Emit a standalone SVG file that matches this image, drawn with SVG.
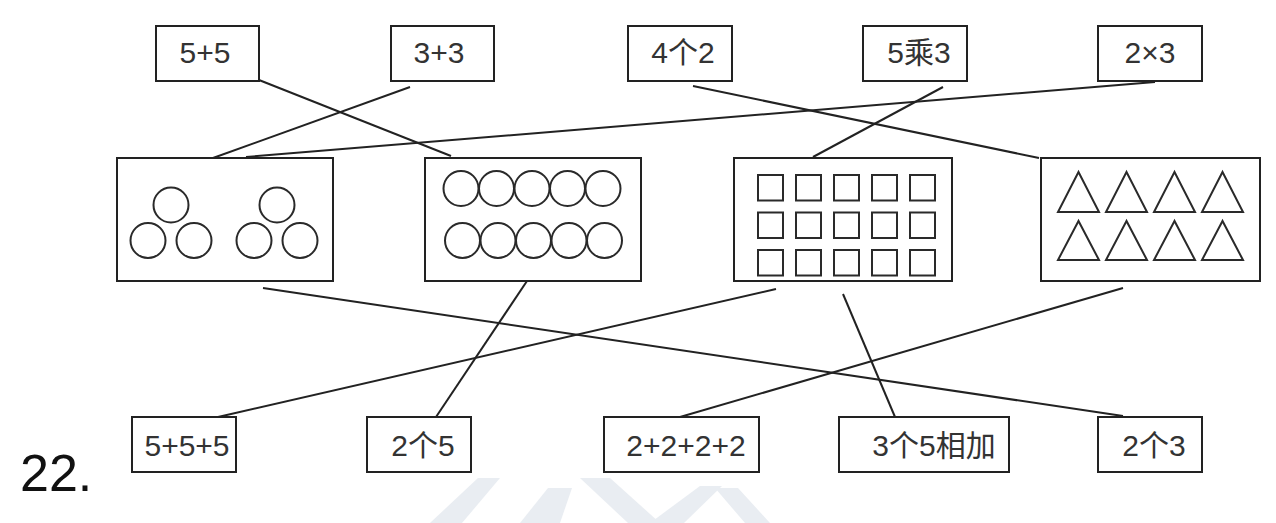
<svg xmlns="http://www.w3.org/2000/svg" width="1276" height="523" viewBox="0 0 1276 523">
<style>
.box{fill:#fff;stroke:#222;stroke-width:2}
.sh{fill:none;stroke:#2a2a2a;stroke-width:2}
.lbl{font-family:"Liberation Sans","Noto Sans CJK SC",sans-serif;font-size:30px;fill:#333;text-anchor:middle}
.num{font-family:"Liberation Sans",sans-serif;font-size:52px;fill:#111}
.wm{fill:#e9edf2}
#connectors line{stroke:#222;stroke-width:2}
</style>
<rect width="1276" height="523" fill="#fff"/>
<g id="watermark">
<polygon class="wm" points="430,523 478,478 500,478 462,523"/>
<polygon class="wm" points="520,523 548,488 572,488 560,523"/>
<polygon class="wm" points="580,478 610,478 660,523 628,523"/>
<polygon class="wm" points="650,523 700,486 722,486 684,523"/>
<polygon class="wm" points="715,488 738,488 770,523 745,523"/>
</g>
<g id="connectors">
<line x1="259" y1="80" x2="451" y2="156"/>
<line x1="410" y1="87" x2="213" y2="158"/>
<line x1="693" y1="86" x2="1039" y2="158"/>
<line x1="943" y1="87" x2="813" y2="157"/>
<line x1="1155" y1="82" x2="246" y2="157"/>
<line x1="263" y1="288" x2="1123" y2="416"/>
<line x1="527" y1="281" x2="436" y2="417"/>
<line x1="776" y1="289" x2="218" y2="417"/>
<line x1="843" y1="294" x2="895" y2="417"/>
<line x1="1123" y1="288" x2="680" y2="417"/>
</g>
<g id="t1"><rect class="box" x="156" y="26" width="103" height="55"/><text class="lbl" x="205" y="63">5+5</text></g>
<g id="t2"><rect class="box" x="391" y="26" width="103" height="55"/><text class="lbl" x="439" y="63">3+3</text></g>
<g id="t3"><rect class="box" x="628" y="26" width="104" height="55"/><text class="lbl" x="683" y="63">4个2</text></g>
<g id="t4"><rect class="box" x="863" y="26" width="104" height="55"/><text class="lbl" x="919" y="63">5乘3</text></g>
<g id="t5"><rect class="box" x="1098" y="26" width="104" height="55"/><text class="lbl" x="1150" y="63">2×3</text></g>
<g id="m1">
<rect class="box" x="117" y="158" width="216" height="123"/>
<circle class="sh" cx="171" cy="205" r="17.5"/><circle class="sh" cx="148" cy="240.5" r="17.5"/><circle class="sh" cx="194" cy="240.5" r="17.5"/>
<circle class="sh" cx="277" cy="205" r="17.5"/><circle class="sh" cx="254" cy="240.5" r="17.5"/><circle class="sh" cx="300" cy="240.5" r="17.5"/>
</g>
<g id="m2">
<rect class="box" x="425" y="158" width="216" height="123"/>
<circle class="sh" cx="461" cy="188.5" r="17.5"/><circle class="sh" cx="496.5" cy="188.5" r="17.5"/><circle class="sh" cx="532" cy="188.5" r="17.5"/><circle class="sh" cx="567.5" cy="188.5" r="17.5"/><circle class="sh" cx="603" cy="188.5" r="17.5"/>
<circle class="sh" cx="462.5" cy="240.5" r="17.5"/><circle class="sh" cx="498" cy="240.5" r="17.5"/><circle class="sh" cx="533.5" cy="240.5" r="17.5"/><circle class="sh" cx="569" cy="240.5" r="17.5"/><circle class="sh" cx="604.5" cy="240.5" r="17.5"/>
</g>
<g id="m3">
<rect class="box" x="734" y="158" width="218" height="123"/>
<g class="sh">
<rect x="758" y="175" width="25" height="25.5"/><rect x="796" y="175" width="25" height="25.5"/><rect x="834" y="175" width="25" height="25.5"/><rect x="872" y="175" width="25" height="25.5"/><rect x="910" y="175" width="25" height="25.5"/>
<rect x="758" y="212.5" width="25" height="25.5"/><rect x="796" y="212.5" width="25" height="25.5"/><rect x="834" y="212.5" width="25" height="25.5"/><rect x="872" y="212.5" width="25" height="25.5"/><rect x="910" y="212.5" width="25" height="25.5"/>
<rect x="758" y="250" width="25" height="25.5"/><rect x="796" y="250" width="25" height="25.5"/><rect x="834" y="250" width="25" height="25.5"/><rect x="872" y="250" width="25" height="25.5"/><rect x="910" y="250" width="25" height="25.5"/>
</g>
</g>
<g id="m4">
<rect class="box" x="1041" y="158" width="219" height="123"/>
<g class="sh" stroke-linejoin="miter">
<polygon points="1078.5,172 1058,212 1099,212"/><polygon points="1126.5,172 1106,212 1147,212"/><polygon points="1174.5,172 1154,212 1195,212"/><polygon points="1222.5,172 1202,212 1243,212"/>
<polygon points="1078.5,221 1058,260 1099,260"/><polygon points="1126.5,221 1106,260 1147,260"/><polygon points="1174.5,221 1154,260 1195,260"/><polygon points="1222.5,221 1202,260 1243,260"/>
</g>
</g>
<g id="b1"><rect class="box" x="132" y="417" width="104" height="55"/><text class="lbl" x="187" y="456">5+5+5</text></g>
<g id="b2"><rect class="box" x="367" y="417" width="104" height="55"/><text class="lbl" x="423" y="456">2个5</text></g>
<g id="b3"><rect class="box" x="604" y="417" width="155" height="55"/><text class="lbl" x="686" y="456">2+2+2+2</text></g>
<g id="b4"><rect class="box" x="839" y="417" width="170" height="55"/><text class="lbl" x="934" y="456">3个5相加</text></g>
<g id="b5"><rect class="box" x="1098" y="417" width="104" height="55"/><text class="lbl" x="1154" y="456">2个3</text></g>
<text class="num" x="20" y="491">22.</text>
</svg>
